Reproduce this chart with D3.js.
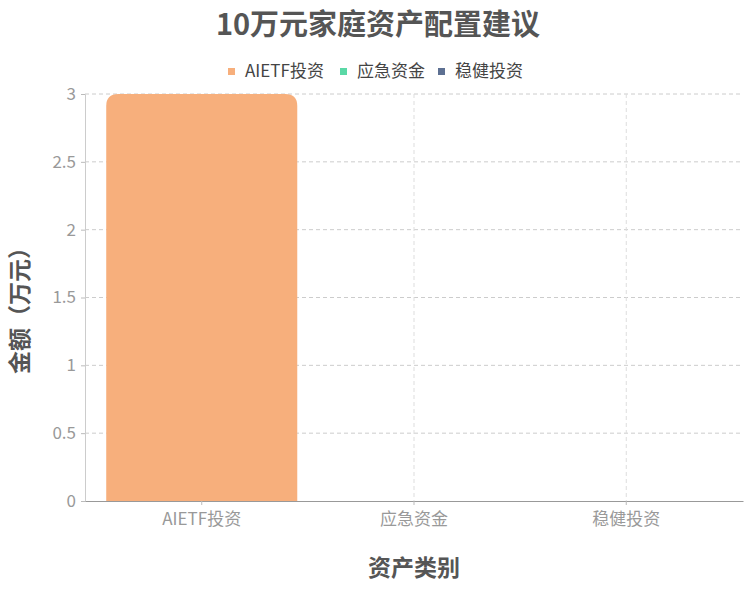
<!DOCTYPE html>
<html>
<head>
<meta charset="utf-8">
<script src="https://cdn.jsdelivr.net/npm/d3@7"></script>
<style>
  body { margin: 0; background: #fff; }
  text { font-family: "Noto Sans CJK SC", "Noto Sans", sans-serif; }
</style>
</head>
<body>
<svg id="chart" width="755" height="614"></svg>
<script>
'use strict';

// categories on the x axis
var categories = ['AIETF投资', '应急资金', '稳健投资'];
// legend series and their values per category (万元)
var seriesNames = ['AIETF投资', '应急资金', '稳健投资'];
var aietfValues = [3, 0, 0];
var emergencyValues = [0, 0, 0];
var stableValues = [0, 0, 0];
var yTicks = [0, 0.5, 1, 1.5, 2, 2.5, 3];

var colors = ['#f7af7c', '#5ad8a6', '#5d7092'];
var allValues = [aietfValues, emergencyValues, stableValues];

var svg = d3.select('#chart');
var margin = {left: 85, right: 12, top: 94, bottom: 113};
var W = 755, H = 614;

var x = d3.scaleBand()
    .domain(categories)
    .range([margin.left, W - margin.right])
    .paddingInner(0.1)
    .paddingOuter(0.1);

var y = d3.scaleLinear()
    .domain([0, 3])
    .range([H - margin.bottom, margin.top]);

// title
svg.append('text')
    .attr('x', 378).attr('y', 35)
    .attr('text-anchor', 'middle')
    .attr('font-size', 29).attr('font-weight', 'bold')
    .attr('fill', '#555')
    .text('10万元家庭资产配置建议');

// legend
var legend = svg.append('g').attr('transform', 'translate(0,71)');
var legendX = [228, 340, 438];
seriesNames.forEach(function (name, i) {
    var g = legend.append('g').attr('transform', 'translate(' + legendX[i] + ',0)');
    g.append('rect').attr('x', 0).attr('y', -3).attr('width', 7).attr('height', 7)
        .attr('fill', colors[i]);
    g.append('text').attr('x', 17).attr('y', 0).attr('dy', '0.35em')
        .attr('font-size', 17).attr('fill', '#444').text(name);
});

// horizontal grid
svg.append('g').selectAll('line.hgrid')
    .data(yTicks.slice(1))
  .enter().append('line')
    .attr('class', 'hgrid')
    .attr('x1', margin.left).attr('x2', W - margin.right)
    .attr('y1', function (d) { return y(d); })
    .attr('y2', function (d) { return y(d); })
    .attr('stroke', '#ccc').attr('stroke-dasharray', '4,3');

// vertical grid at category centres
svg.append('g').selectAll('line.vgrid')
    .data(categories)
  .enter().append('line')
    .attr('class', 'vgrid')
    .attr('x1', function (d) { return x(d) + x.bandwidth() / 2; })
    .attr('x2', function (d) { return x(d) + x.bandwidth() / 2; })
    .attr('y1', y(3)).attr('y2', y(0))
    .attr('stroke', '#ddd').attr('stroke-dasharray', '4,3');

// bars, one group per series
var r = 12;
function barPath(x0, w, y0, y1) {
    var h = y0 - y1;
    if (h <= 0) return '';
    var rr = Math.min(r, h, w / 2);
    return 'M' + x0 + ',' + y0 +
        'V' + (y1 + rr) +
        'Q' + x0 + ',' + y1 + ' ' + (x0 + rr) + ',' + y1 +
        'H' + (x0 + w - rr) +
        'Q' + (x0 + w) + ',' + y1 + ' ' + (x0 + w) + ',' + (y1 + rr) +
        'V' + y0 + 'Z';
}
allValues.forEach(function (vals, si) {
    svg.append('g').selectAll('path')
        .data(vals)
      .enter().append('path')
        .attr('d', function (d, i) {
            return barPath(x(categories[i]), x.bandwidth(), y(0), y(d));
        })
        .attr('fill', colors[si]);
});

// y axis
var yAxis = svg.append('g')
    .attr('transform', 'translate(' + margin.left + ',0)')
    .call(d3.axisLeft(y).tickValues(yTicks).tickSize(4).tickPadding(5).tickFormat(d3.format('~g')));
yAxis.select('.domain').attr('stroke', '#ccc');
yAxis.selectAll('.tick line').attr('stroke', '#bbb');
yAxis.selectAll('.tick text').attr('fill', '#999').attr('font-size', 17)
    .style('font-family', '"Noto Sans CJK SC", sans-serif');

// x axis
var xAxis = svg.append('g')
    .attr('transform', 'translate(0,' + y(0) + ')')
    .call(d3.axisBottom(x).tickSizeOuter(0).tickSizeInner(4).tickPadding(8));
xAxis.select('.domain').attr('stroke', '#999');
xAxis.selectAll('.tick line').attr('stroke', '#bbb');
xAxis.selectAll('.tick text').attr('fill', '#999').attr('font-size', 17)
    .style('font-family', '"Noto Sans CJK SC", sans-serif');

// axis titles
svg.append('text')
    .attr('x', 414).attr('y', 576)
    .attr('text-anchor', 'middle')
    .attr('font-size', 23).attr('font-weight', 'bold').attr('fill', '#555')
    .text('资产类别');

svg.append('text')
    .attr('transform', 'translate(28,' + 305 + ') rotate(-90)')
    .attr('text-anchor', 'middle')
    .attr('font-size', 23).attr('font-weight', 'bold').attr('fill', '#555')
    .text('金额（万元）');
</script>
</body>
</html>
